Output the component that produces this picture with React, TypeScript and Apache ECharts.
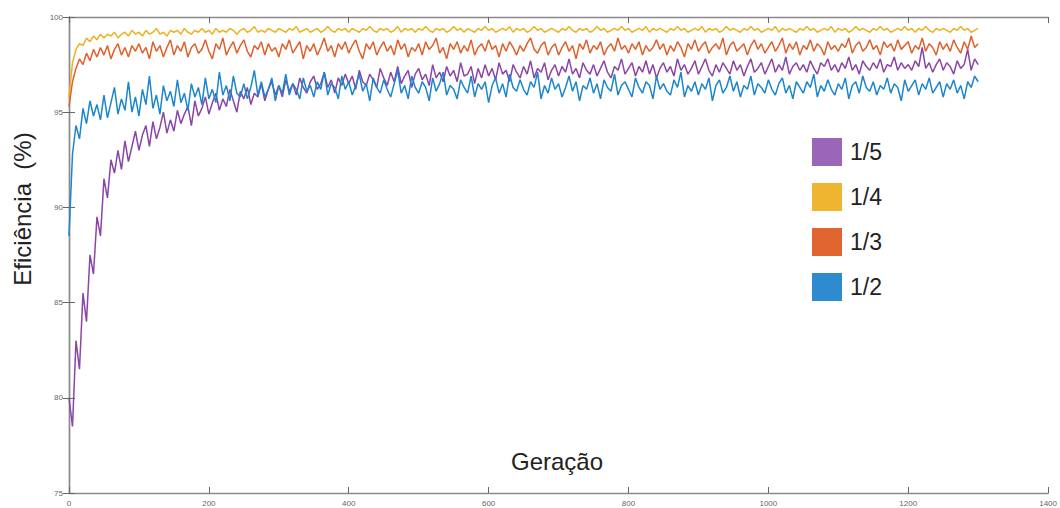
import React, { useEffect, useRef } from "react";
import * as echarts from "echarts";

const STEP = 5;

const eff15 = [
  80.0, 78.5, 83.0, 81.5, 85.5, 84.0, 87.5, 86.5, 89.5, 88.5,
  91.5, 90.5, 92.5, 91.8, 93.0, 92.0, 93.5, 92.4, 93.2, 94.0,
  93.0, 93.8, 94.3, 93.2, 94.5, 93.6, 94.2, 95.0, 93.9, 94.6,
  94.0, 95.1, 94.4, 94.9, 95.3, 94.3, 95.6, 94.8, 95.2, 95.8,
  94.9, 95.5, 96.0, 95.1, 95.7, 95.3, 96.2, 95.6, 95.0, 96.1,
  95.7, 96.3, 95.4, 96.0, 95.8, 96.5, 95.6, 96.2, 96.6, 95.9,
  96.4, 95.8, 96.7, 96.1, 96.5, 95.9, 96.8, 96.3, 96.0, 96.6,
  96.9, 96.2, 96.5, 97.1, 96.3, 96.7, 96.0, 96.8, 96.4, 97.0,
  96.5, 96.9, 96.2, 97.2, 96.6, 96.4, 97.0, 96.7, 96.3, 97.3,
  96.8, 96.4, 97.1, 96.6, 97.4, 96.5, 96.9, 97.2, 96.3, 97.0,
  97.3, 96.7, 97.0, 96.4, 97.5, 96.8, 97.1, 96.6, 97.4, 96.9,
  97.2, 96.6, 97.6, 96.9, 97.0, 97.4, 96.5, 97.3, 96.8, 97.5,
  96.9, 97.3, 96.7, 97.6, 97.0, 97.2, 96.6, 97.5, 97.1, 96.8,
  97.4, 97.0, 97.7, 96.8, 97.3, 97.1, 97.6, 96.7, 97.2, 97.5,
  96.9, 97.4, 97.1, 97.8, 97.0, 97.3, 96.8, 97.6, 97.2, 97.0,
  97.5, 96.9, 97.3, 97.7, 97.1, 96.8, 97.4, 97.2, 97.8, 97.0,
  97.3, 97.6, 96.9, 97.4, 97.1, 97.7, 97.0, 97.5, 96.8, 97.3,
  97.6, 97.1, 97.4, 96.9, 97.8, 97.2, 97.5, 97.0, 97.3, 97.7,
  97.0, 97.4, 97.8, 97.2, 96.9, 97.5, 97.1, 97.6, 97.3, 97.0,
  97.7, 97.2, 97.5, 96.9, 97.4, 97.8, 97.1, 97.3, 97.6, 97.0,
  97.4, 97.8, 97.1, 97.5, 97.2, 97.9, 97.0, 97.4, 97.6, 97.2,
  97.5, 97.1, 97.7, 97.3, 97.0, 97.6, 97.4, 97.8, 97.2, 97.5,
  97.1, 97.6, 97.3, 97.9, 97.2, 97.5, 97.0, 97.7, 97.4, 97.2,
  97.6, 97.3, 97.8, 97.1, 97.5, 97.4, 97.9, 97.2, 97.6, 97.3,
  97.5, 97.2, 97.7, 97.4, 98.4, 97.3, 97.6, 97.1, 97.5, 97.8,
  97.2, 97.6, 97.4, 97.0, 97.7, 97.3, 97.5, 98.3, 97.2, 97.8,
  97.5,
];

const eff14 = [
  95.8, 97.6, 98.3, 98.6, 98.5, 98.9, 98.7, 99.0, 98.8, 99.1,
  98.9, 99.1, 99.0, 99.2, 98.9, 99.1, 99.2, 99.0, 99.3, 99.1,
  99.2, 99.0, 99.3, 99.1, 99.2, 99.4, 99.1, 99.2, 99.0, 99.3,
  99.2, 99.3, 99.1, 99.4, 99.2, 99.1, 99.3, 99.2, 99.4, 99.2,
  99.3, 99.1, 99.4, 99.2, 99.3, 99.2, 99.4, 99.3, 99.1, 99.3,
  99.4, 99.2, 99.3, 99.5, 99.2, 99.3, 99.2, 99.4, 99.3, 99.2,
  99.4, 99.3, 99.2, 99.4, 99.3, 99.5, 99.2, 99.3, 99.4, 99.2,
  99.3, 99.4, 99.2, 99.3, 99.5, 99.3, 99.2, 99.4, 99.3, 99.4,
  99.2, 99.4, 99.3, 99.2, 99.4, 99.3, 99.5, 99.3, 99.2, 99.4,
  99.3, 99.4, 99.2, 99.3, 99.5, 99.2, 99.4, 99.3, 99.4, 99.2,
  99.4, 99.3, 99.5, 99.3, 99.2, 99.4, 99.3, 99.4, 99.2, 99.3,
  99.5, 99.3, 99.4, 99.2, 99.4, 99.3, 99.2, 99.4, 99.3, 99.5,
  99.3, 99.4, 99.2, 99.3, 99.4, 99.3, 99.5, 99.2, 99.4, 99.3,
  99.4, 99.2, 99.3, 99.5, 99.3, 99.4, 99.2, 99.3, 99.4, 99.3,
  99.2, 99.4, 99.3, 99.5, 99.3, 99.2, 99.4, 99.3, 99.4, 99.2,
  99.3, 99.5, 99.3, 99.4, 99.2, 99.3, 99.4, 99.3, 99.5, 99.3,
  99.4, 99.2, 99.3, 99.4, 99.3, 99.5, 99.2, 99.4, 99.3, 99.4,
  99.3, 99.2, 99.4, 99.3, 99.5, 99.3, 99.4, 99.2, 99.3, 99.4,
  99.3, 99.5, 99.2, 99.4, 99.3, 99.4, 99.2, 99.3, 99.5, 99.3,
  99.4, 99.3, 99.2, 99.4, 99.3, 99.5, 99.3, 99.4, 99.2, 99.3,
  99.4, 99.3, 99.5, 99.2, 99.4, 99.3, 99.4, 99.3, 99.2, 99.4,
  99.3, 99.5, 99.3, 99.4, 99.2, 99.3, 99.4, 99.3, 99.5, 99.2,
  99.4, 99.3, 99.4, 99.2, 99.3, 99.5, 99.3, 99.4, 99.3, 99.2,
  99.4, 99.3, 99.5, 99.3, 99.4, 99.2, 99.3, 99.4, 99.3, 99.5,
  99.3, 99.4, 99.2, 99.4, 99.3, 99.5, 99.3, 99.2, 99.4, 99.3,
  99.4, 99.3, 99.2, 99.4, 99.3, 99.5, 99.3, 99.4, 99.2, 99.3,
  99.4,
];

const eff13 = [
  95.3, 96.6, 97.3, 97.8, 97.5, 98.1, 97.7, 98.3, 97.9, 98.4,
  98.0, 98.5, 97.8, 98.3, 98.6, 98.0, 98.4, 97.9, 98.5, 98.2,
  98.6, 98.1, 98.4, 97.8, 98.7, 98.2, 98.5, 97.9, 98.4, 98.8,
  98.0, 98.5, 98.2, 98.7, 97.9, 98.4, 98.6, 98.1, 98.3, 98.8,
  98.2, 97.8, 98.6, 98.3, 98.9, 98.0, 98.4, 98.7, 98.1, 98.5,
  98.8, 98.2, 97.9, 98.5, 98.3, 98.7, 98.0, 98.6, 98.2, 98.4,
  97.9, 98.6, 98.3, 98.8, 98.1, 98.4, 98.7, 97.8, 98.5, 98.2,
  98.6, 98.0, 98.4, 98.9, 98.2, 98.5, 97.9, 98.6, 98.3, 98.7,
  98.1, 98.5, 98.8, 98.2, 97.8, 98.6, 98.3, 98.7, 98.0, 98.4,
  98.7, 98.2, 98.5, 98.0, 98.8, 98.3, 98.6, 97.9, 98.4, 98.2,
  98.6, 98.0, 98.7, 98.3, 98.5, 98.9, 98.1, 98.4, 97.8, 98.6,
  98.3, 98.7, 98.1, 98.5, 98.2, 98.8, 98.0, 98.4, 98.6, 98.2,
  98.8, 98.3, 98.5, 97.9, 98.6, 98.2, 98.7, 98.4, 98.0, 98.5,
  98.2, 98.6, 98.9, 98.3, 98.1, 98.5, 98.7, 98.0, 98.4, 98.6,
  98.0, 98.4, 98.7, 98.2, 98.5, 97.8, 98.6, 98.3, 98.8, 98.1,
  98.5, 98.3, 98.7, 98.0, 98.4, 98.6, 98.2, 98.9, 98.3, 98.5,
  98.1, 98.6, 98.3, 98.7, 98.0, 98.5, 98.2, 98.4, 98.8, 98.3,
  98.6, 98.0, 98.5, 98.2, 98.7, 98.4, 97.9, 98.6, 98.3, 98.8,
  98.2, 98.5, 98.7, 98.1, 98.4, 98.6, 98.3, 98.9, 98.0, 98.5,
  98.7, 98.2, 98.4, 98.6, 98.0, 98.5, 98.8, 98.3, 98.6, 98.1,
  98.4, 98.7, 98.2, 98.5, 98.9, 98.1, 98.6, 98.3, 98.7, 98.0,
  98.5, 98.3, 98.8, 98.2, 98.6, 98.4, 98.0, 98.7, 98.3, 98.5,
  98.2, 98.6, 98.4, 98.9, 98.1, 98.5, 98.7, 98.2, 98.4, 98.8,
  98.3, 98.5, 98.0, 98.7, 98.4, 98.6, 98.2, 98.8, 98.3, 98.5,
  98.7, 98.1, 98.5, 98.3, 98.9, 98.2, 98.6, 98.4, 98.0, 98.7,
  98.3, 98.6, 98.2, 98.8, 98.4, 98.1, 98.7, 98.3, 99.0, 98.4,
  98.6,
];

const eff12 = [
  88.5, 92.8, 94.3, 93.6, 95.2, 94.4, 95.6, 94.8, 95.4, 94.6,
  95.9, 94.7, 95.5, 96.3, 94.9, 95.7, 95.1, 96.6, 95.0, 95.8,
  94.8, 96.2, 95.4, 96.9, 95.2, 95.9, 94.9, 96.4, 95.6, 96.1,
  95.3, 96.7, 95.5, 96.0, 95.1, 96.5, 95.8, 96.3, 95.4, 96.8,
  95.7, 96.2, 95.5, 97.1, 95.9, 96.4, 95.6, 96.9, 96.0, 95.8,
  96.5, 95.7, 96.3, 97.2, 95.9, 96.6, 95.8, 96.2, 96.8, 95.6,
  96.4, 96.0, 97.0, 95.9, 96.5, 96.2, 95.7, 96.8, 96.1, 96.4,
  95.8, 96.6, 96.2, 97.1, 95.9, 96.5, 96.3, 95.7, 96.9, 96.2,
  96.6, 95.9, 96.4, 97.0, 96.1, 96.5, 95.6, 96.8, 96.3, 96.0,
  96.7, 96.2, 95.8, 96.5, 97.2, 96.0, 96.4, 95.7, 96.9, 96.3,
  96.0, 96.6, 96.3, 95.6, 96.8, 96.1, 96.5, 97.1, 95.9, 96.4,
  96.2, 95.7, 96.7, 96.3, 96.0, 96.9, 95.8, 96.5, 96.2, 96.6,
  95.5, 96.4, 96.8, 96.0, 96.5, 95.8, 97.0, 96.3, 96.1, 96.7,
  96.2, 95.9, 96.6, 96.3, 97.1, 95.7, 96.4, 96.0, 96.8, 96.2,
  96.5, 95.8, 96.3, 96.9, 96.1, 96.6, 95.6, 96.4, 96.2, 96.8,
  96.0, 96.5, 95.7, 96.7, 96.3, 96.1, 97.0, 95.9, 96.4, 96.6,
  96.2, 95.8, 96.8, 96.3, 96.0, 96.6, 96.4, 95.7, 96.9, 96.2,
  96.5, 96.1, 95.9, 96.7, 96.3, 97.1, 95.8, 96.4, 96.1, 96.6,
  95.9, 96.5, 96.2, 96.8, 95.6, 96.4, 96.7, 96.0, 96.3, 96.9,
  96.1, 96.6, 95.8, 96.4, 96.2, 96.9, 95.9, 96.5, 96.3, 96.0,
  96.7, 96.2, 95.9, 96.5, 96.8, 96.0, 96.4, 95.7, 96.6, 96.3,
  96.0, 96.6, 96.3, 97.0, 95.8, 96.4, 96.1, 96.7, 96.2, 95.9,
  96.5, 96.2, 96.8, 95.7, 96.4, 96.6, 96.0, 96.9, 96.3, 96.1,
  96.6, 95.9, 96.4, 96.2, 96.8, 96.0, 96.5, 96.3, 95.6, 96.7,
  96.1, 96.4, 96.7, 95.9, 96.5, 96.2, 96.8, 96.0, 96.3, 96.6,
  95.8, 96.5, 96.2, 96.7, 96.0, 96.4, 95.7, 96.6, 96.3, 96.9,
  96.6,
];

const generations = eff15.map((_, i) => i * STEP);

const seriesNames = ["1/5", "1/4", "1/3", "1/2"];
const seriesValues = [eff15, eff14, eff13, eff12];
const lineColors = ["#8A45A6", "#EDB120", "#E0602A", "#1B86CC"];
const legendColors = ["#9A66B8", "#F0B530", "#E0652F", "#2E8BD0"];

const xTicks = { min: 0, max: 1400, interval: 200 };
const yTicks = { min: 75, max: 100, interval: 5 };

const FONT = "'Liberation Sans', Arial, sans-serif";

export default function App() {
  const ref = useRef<HTMLDivElement>(null);
  useEffect(() => {
    if (!ref.current) return;
    const chart = echarts.init(ref.current, undefined, { renderer: "svg" });
    const axisLine = { show: true, lineStyle: { color: "#8a8a8a", width: 1.4 } };
    const tick = { show: true, inside: true, length: 6, lineStyle: { color: "#666", width: 1 } };
    const label = {
      fontSize: 8,
      color: "#666",
      margin: 6,
      fontFamily: FONT,
      formatter: (v: number) => String(v),
    };
    const option: any = {
      animation: false,
      backgroundColor: "#ffffff",
      grid: { left: 69, right: 9, top: 17, bottom: 15, containLabel: false },
      xAxis: [
        {
          type: "value",
          ...xTicks,
          axisLine,
          axisTick: tick,
          splitLine: { show: false },
          axisLabel: label,
        },
        {
          type: "value",
          position: "top",
          ...xTicks,
          axisLine,
          axisTick: tick,
          splitLine: { show: false },
          axisLabel: { show: false },
        },
      ],
      yAxis: [
        {
          type: "value",
          ...yTicks,
          axisLine,
          axisTick: tick,
          splitLine: { show: false },
          axisLabel: label,
        },
        {
          type: "value",
          position: "right",
          ...yTicks,
          axisLine,
          axisTick: tick,
          splitLine: { show: false },
          axisLabel: { show: false },
        },
      ],
      legend: {
        orient: "vertical",
        left: 812,
        top: 138,
        padding: 0,
        icon: "rect",
        itemWidth: 30,
        itemHeight: 28,
        itemGap: 17,
        textStyle: { fontSize: 23, color: "#222", fontFamily: FONT, padding: [0, 0, 0, 3] },
        data: seriesNames.map((n, i) => ({ name: n, itemStyle: { color: legendColors[i] } })),
      },
      graphic: [
        {
          type: "text",
          x: 22,
          y: 209,
          rotation: Math.PI / 2,
          style: {
            text: "Eficiência  (%)",
            font: `24px ${FONT}`,
            fill: "#222",
            textAlign: "center",
            textVerticalAlign: "middle",
          },
        },
        {
          type: "text",
          x: 557,
          y: 461,
          style: {
            text: "Geração",
            font: `24px ${FONT}`,
            fill: "#222",
            textAlign: "center",
            textVerticalAlign: "middle",
          },
        },
      ],
      series: seriesNames.map((n, i) => ({
        name: n,
        type: "line",
        xAxisIndex: 0,
        yAxisIndex: 0,
        symbol: "none",
        color: legendColors[i],
        lineStyle: { color: lineColors[i], width: 1.5 },
        data: generations.map((g, k) => [g, seriesValues[i][k]]),
      })),
    };
    chart.setOption(option);
    return () => chart.dispose();
  }, []);
  return (
    <div
      ref={ref}
      style={{ position: "absolute", left: 0, top: 0, width: 1060, height: 508 }}
    />
  );
}
